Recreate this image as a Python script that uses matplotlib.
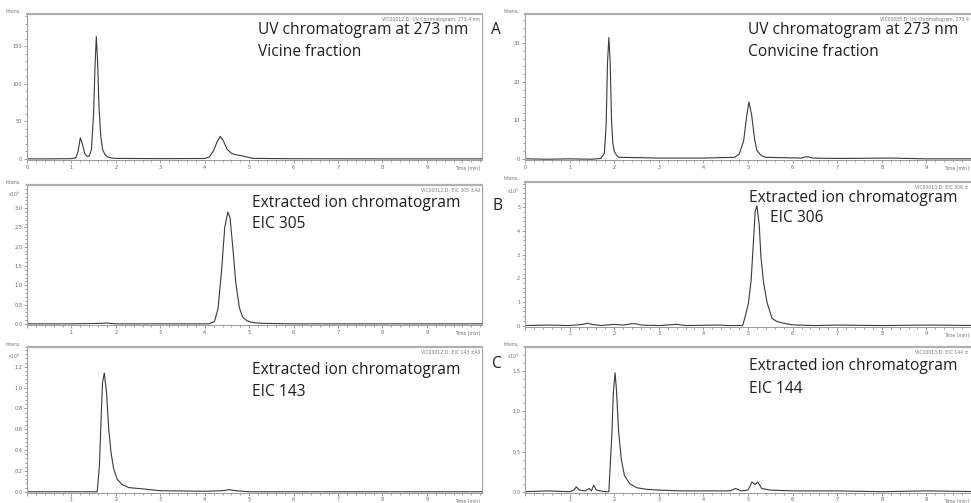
import matplotlib
matplotlib.use("Agg")
import matplotlib.pyplot as plt
from matplotlib.ticker import AutoMinorLocator

W, H = 971, 503

# ---- traces (time in min, intensity in axis units) ----
# A left: UV 273 nm, vicine fraction
uv_vic_t = [0.0, 0.5, 1.0, 1.1, 1.15, 1.2, 1.25, 1.3, 1.35, 1.4, 1.45, 1.5, 1.53, 1.56,
            1.59, 1.62, 1.66, 1.7, 1.75, 1.8, 1.9, 2.0, 3.0, 4.0, 4.1, 4.2, 4.28, 4.35,
            4.42, 4.5, 4.6, 4.7, 4.8, 4.9, 5.0, 5.1, 6.0, 8.0, 10.3]
uv_vic_y = [0.0, 0.0, 0.3, 1.5, 10.0, 28.0, 19.0, 7.0, 3.5, 3.5, 12.0, 62.0, 122.0, 163.0,
            128.0, 70.0, 30.0, 13.0, 6.0, 3.0, 1.2, 0.6, 0.3, 0.5, 2.5, 11.0, 23.0, 30.0,
            24.0, 13.0, 7.5, 5.5, 4.5, 3.2, 1.8, 0.6, 0.2, 0.0, 0.0]

# A right: UV 273 nm, convicine fraction
uv_con_t = [0.0, 0.5, 1.0, 1.5, 1.7, 1.78, 1.82, 1.85, 1.88, 1.91, 1.94, 1.97, 2.0, 2.05,
            2.1, 2.6, 3.0, 4.0, 4.7, 4.8, 4.9, 4.97, 5.02, 5.08, 5.15, 5.2, 5.3, 5.4,
            6.2, 6.28, 6.35, 6.45, 7.0, 8.2, 9.0, 10.3]
uv_con_y = [0.0, -0.1, 0.0, -0.1, 0.1, 1.5, 9.0, 25.0, 31.5, 25.0, 10.0, 4.0, 2.0, 1.0,
            0.4, 0.3, 0.2, 0.2, 0.4, 1.2, 4.5, 11.0, 14.8, 11.5, 5.0, 2.2, 0.8, 0.4,
            0.2, 0.5, 0.5, 0.2, 0.1, 0.2, 0.0, 0.0]

# B left: EIC 305 (x10^6)
eic305_t = [0.0, 1.0, 1.6, 1.8, 2.0, 3.0, 4.1, 4.22, 4.3, 4.38, 4.45, 4.52, 4.57, 4.63,
            4.7, 4.78, 4.85, 4.95, 5.05, 5.2, 5.4, 6.0, 8.0, 10.3]
eic305_y = [0.0, 0.0, 0.01, 0.02, 0.0, 0.0, 0.0, 0.06, 0.4, 1.4, 2.5, 2.9, 2.75, 2.0,
            1.05, 0.42, 0.18, 0.08, 0.04, 0.02, 0.01, 0.0, 0.0, 0.0]

# B right: EIC 306 (x10^5)
eic306_t = [0.0, 0.5, 1.0, 1.3, 1.4, 1.5, 1.7, 2.0, 2.2, 2.4, 2.5, 2.6, 3.0, 3.4, 3.6,
            4.3, 4.6, 4.88, 4.94, 5.01, 5.07, 5.13, 5.16, 5.2, 5.25, 5.29, 5.35, 5.43,
            5.54, 5.65, 5.8, 5.99, 6.5, 7.0, 8.0, 9.0, 10.3]
eic306_y = [0.0, 0.02, 0.0, 0.05, 0.1, 0.05, 0.0, 0.05, 0.02, 0.08, 0.07, 0.02, 0.0, 0.05, 0.0,
            0.02, 0.0, 0.0, 0.4, 0.95, 1.9, 3.8, 4.8, 5.07, 4.3, 2.9, 1.8, 0.95,
            0.3, 0.17, 0.1, 0.03, 0.0, 0.02, 0.0, 0.02, 0.0]

# C left: EIC 143 (x10^6)
eic143_t = [0.0, 1.0, 1.5, 1.58, 1.63, 1.67, 1.7, 1.74, 1.79, 1.84, 1.89, 1.95, 2.03,
            2.14, 2.29, 2.55, 3.0, 4.0, 4.4, 4.55, 4.7, 5.0, 7.0, 10.3]
eic143_y = [0.0, 0.0, 0.0, 0.0, 0.25, 0.73, 1.05, 1.14, 0.95, 0.6, 0.38, 0.22, 0.12,
            0.07, 0.04, 0.03, 0.01, 0.005, 0.01, 0.02, 0.01, 0.0, 0.0, 0.0]

# C right: EIC 144 (x10^5)
eic144_t = [0.0, 0.5, 1.0, 1.1, 1.15, 1.22, 1.35, 1.44, 1.49, 1.54, 1.6, 1.69, 1.8, 1.88,
            1.95, 1.98, 2.02, 2.05, 2.1, 2.16, 2.23, 2.35, 2.5, 2.72, 3.0, 3.5, 4.0, 4.6,
            4.72, 4.85, 5.0, 5.09, 5.16, 5.22, 5.31, 5.5, 6.0, 7.0, 8.0, 9.0, 10.3]
eic144_y = [0.0, 0.01, 0.0, 0.02, 0.06, 0.02, 0.01, 0.04, 0.01, 0.08, 0.02, 0.01, 0.0, 0.0,
            0.74, 1.23, 1.48, 1.27, 0.74, 0.4, 0.2, 0.1, 0.05, 0.03, 0.02, 0.01, 0.01, 0.01,
            0.04, 0.01, 0.02, 0.12, 0.09, 0.12, 0.04, 0.02, 0.01, 0.01, 0.0, 0.01, 0.0]

# y tick labels per panel
yt_vic = [0, 50, 100, 150]
yt_con = [0, 10, 20, 30]
yt_305 = [0.0, 0.5, 1.0, 1.5, 2.0, 2.5, 3.0]
yt_306 = [0, 1, 2, 3, 4, 5]
yt_143 = [0.0, 0.2, 0.4, 0.6, 0.8, 1.0, 1.2]
yt_144 = [0.0, 0.5, 1.0, 1.5]

# ---- panel setup ----
# (trace, x-extent px, y-extent px, ylim, xmax, y ticks, exponent, header, label x=0)
panels = [
    (uv_vic_t, uv_vic_y, (27, 482), (14, 160), (-1.5, 193), 10.24, yt_vic, None,
     "VIC00012.D: UV Chromatogram, 273.4 nm", True),
    (uv_con_t, uv_con_y, (525, 971), (14, 160), (-0.3, 37.6), 10.0, yt_con, None,
     "VIC00005.D: UV Chromatogram, 273.4", True),
    (eic305_t, eic305_y, (27, 482), (185, 325), (-0.03, 3.6), 10.24, yt_305, 6,
     "VIC00012.D: EIC 305 \u00b1All", False),
    (eic306_t, eic306_y, (525, 971), (182, 326.5), (-0.04, 6.07), 10.0, yt_306, 5,
     "VIC00013.D: EIC 306 \u00b1", False),
    (eic143_t, eic143_y, (27, 482), (347, 492.5), (-0.007, 1.39), 10.24, yt_143, 6,
     "VIC00012.D: EIC 143 \u00b1All", False),
    (eic144_t, eic144_y, (525, 971), (347, 492.5), (-0.01, 1.80), 10.0, yt_144, 5,
     "VIC00013.D: EIC 144 \u00b1", False),
]

# big annotations: (text, x px, baseline y px)
labels = [
    ("UV chromatogram at 273 nm", 258, 34), ("Vicine fraction", 258, 56.5),
    ("UV chromatogram at 273 nm", 748, 34), ("Convicine fraction", 748, 56.5),
    ("Extracted ion chromatogram", 252, 206.5), ("EIC 305", 252, 228.5),
    ("Extracted ion chromatogram", 749, 201.5), ("EIC 306", 770, 222.5),
    ("Extracted ion chromatogram", 252, 374.5), ("EIC 143", 252, 396.5),
    ("Extracted ion chromatogram", 749, 370), ("EIC 144", 749, 393),
    ("A", 491, 33.5), ("B", 492, 210), ("C", 492, 368.5),
]

tick_col = "#777777"
frame_col = "#9a9a9a"
small = dict(fontsize=3.3, color="#777777")

fig = plt.figure(figsize=(W / 100, H / 100), dpi=100)

for t, y, (x0, x1), (y0, y1), ylim, xmax, yt, expo, header, zero_lab in panels:
    ax = fig.add_axes([x0 / W, 1 - y1 / H, (x1 - x0) / W, (y1 - y0) / H])
    ax.plot(t, y, color="#3a3a3a", linewidth=0.8)
    ax.set_xlim(0, xmax)
    ax.set_ylim(*ylim)

    xt = list(range(0, 10))
    ax.set_xticks(xt)
    ax.set_xticklabels([str(v) if (v or zero_lab) else "" for v in xt])
    ax.xaxis.set_minor_locator(AutoMinorLocator(5))
    ax.set_yticks(yt)
    ax.yaxis.set_minor_locator(AutoMinorLocator(5))
    if isinstance(yt[1], float):
        ax.set_yticklabels([f"{v:.1f}" for v in yt])
    else:
        ax.set_yticklabels([str(v) for v in yt])

    ax.tick_params(which="both", direction="out", colors=tick_col,
                   labelsize=3.6, labelcolor="#666666", width=0.5, pad=1.2)
    ax.tick_params(which="major", length=2.2)
    ax.tick_params(which="minor", length=1.1)
    for sp in ax.spines.values():
        sp.set_color(frame_col)
        sp.set_linewidth(0.7)
    ax.spines["top"].set_linewidth(1.6)
    ax.spines["top"].set_color("#b0b0b0")

    # instrument header and axis captions
    ax.text(0.995, 1.0 - 3 / (y1 - y0), header, transform=ax.transAxes,
            ha="right", va="top", **small)
    ax.text(-6 / (x1 - x0), 1.0 + 3 / (y1 - y0), "Intens.", transform=ax.transAxes,
            ha="right", va="center", **small)
    if expo:
        ax.text(-6 / (x1 - x0), 1.0 - 9 / (y1 - y0), f"x10$^{expo}$",
                transform=ax.transAxes, ha="right", va="center", **small)
    ax.text(1.0 - 2 / (x1 - x0), -8 / (y1 - y0), "Time [min]",
            transform=ax.transAxes, ha="right", va="center", **small)

for txt, x, yb in labels:
    fig.text(x / W, 1 - yb / H, txt, ha="left", va="baseline",
             fontsize=11.2, family="Open Sans", color="#1e1e1e")

fig.savefig("out.png", dpi=100)
